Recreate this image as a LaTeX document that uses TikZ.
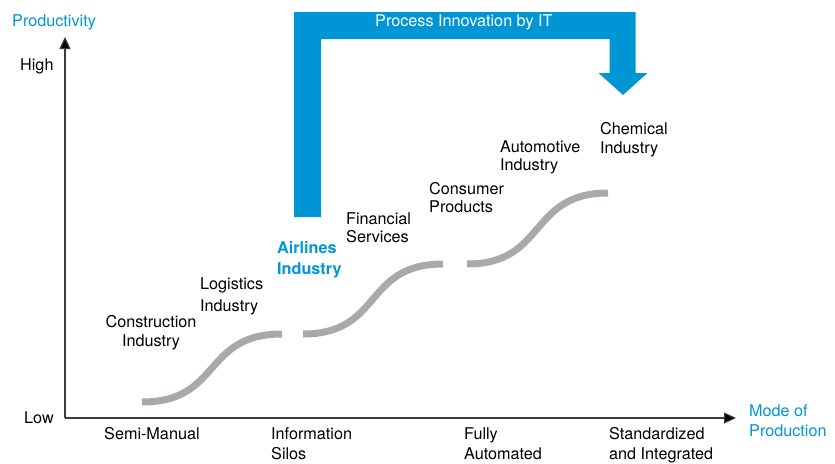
\documentclass[tikz,border=0pt]{standalone}
\usepackage{fontspec}
\setmainfont{TeX Gyre Heros}
\usetikzlibrary{arrows.meta}
\definecolor{itblue}{RGB}{0,150,214}
\definecolor{curvegray}{RGB}{167,169,172}
\definecolor{axisgray}{RGB}{60,60,60}
\tikzset{
  lbl/.style={inner sep=0pt, anchor=base west, align=left, font=\fontsize{16.2}{19}\selectfont},
  lblc/.style={lbl, align=center, anchor=base},
  bluelbl/.style={lbl, text=itblue},
  axis/.style={draw=axisgray, line width=1.1pt, -{Triangle[length=12pt,width=11pt,fill=black]}},
  stair/.style={draw=curvegray, line width=7pt},
}
\begin{document}
\begin{tikzpicture}[x=1pt,y=-1pt]
\useasboundingbox (0,0) rectangle (835,463);
% axes
\coordinate (origin) at (65,418);
\coordinate (ytip) at (65,37);
\coordinate (xtip) at (736,418);
\draw[axis] (origin) -- (ytip);
\draw[axis] (origin) -- (xtip);
% blue arrow
\fill[itblue] (294,12) -- (635.5,12) -- (635.5,73) -- (647.5,73) -- (623,95) -- (598.5,73) -- (609.5,73) -- (609.5,39) -- (321,39) -- (321,217) -- (294,217) -- cycle;
\node[lbl, text=white] (pit) at (375,27) {Process Innovation by IT};
% staircase curves
\draw[stair] (142,402) .. controls (222,402) and (202,334) .. (282,334);
\draw[stair] (303,334) .. controls (383,334) and (363,264) .. (443,264);
\draw[stair] (467,264) .. controls (547,264) and (528,193) .. (608,193);
% axis labels (multi-line nodes: base = last line baseline)
\node[bluelbl] (prod) at (12,27) {Productivity};
\node[lbl] (high) at (20,70) {High};
\node[lbl] (low) at (24,423) {Low};
\node[bluelbl, font=\fontsize{16.2}{20.7}\selectfont] (mode) at (749,436.7) {Mode of\\Production};
% x categories
\node[lbl, font=\fontsize{16.2}{20}\selectfont] (semi) at (104,439) {Semi-Manual};
\node[lbl, font=\fontsize{16.2}{20}\selectfont] (info) at (271,459) {Information\\Silos};
\node[lbl, font=\fontsize{16.2}{20}\selectfont] (fully) at (464,459) {Fully\\Automated};
\node[lbl, font=\fontsize{16.2}{20}\selectfont] (std) at (609,459) {Standardized\\and Integrated};
% industries
\node[lblc, font=\fontsize{16.2}{19.4}\selectfont] (constr) at (151,346.7) {Construction\\Industry};
\node[lbl, font=\fontsize{16.2}{21.7}\selectfont] (logi) at (200,311) {Logistics\\Industry};
\node[bluelbl, font=\bfseries\fontsize{16.2}{21}\selectfont] (air) at (277,274.3) {Airlines\\Industry};
\node[lbl, font=\fontsize{16.2}{17.5}\selectfont] (fin) at (346,242) {Financial\\Services};
\node[lbl, font=\fontsize{16.2}{18.4}\selectfont] (cons) at (429,212.7) {Consumer\\Products};
\node[lbl, font=\fontsize{16.2}{18.4}\selectfont] (auto) at (500,170.7) {Automotive\\Industry};
\node[lbl, font=\fontsize{16.2}{19}\selectfont] (chem) at (600,153.3) {Chemical\\Industry};
\end{tikzpicture}
\end{document}
